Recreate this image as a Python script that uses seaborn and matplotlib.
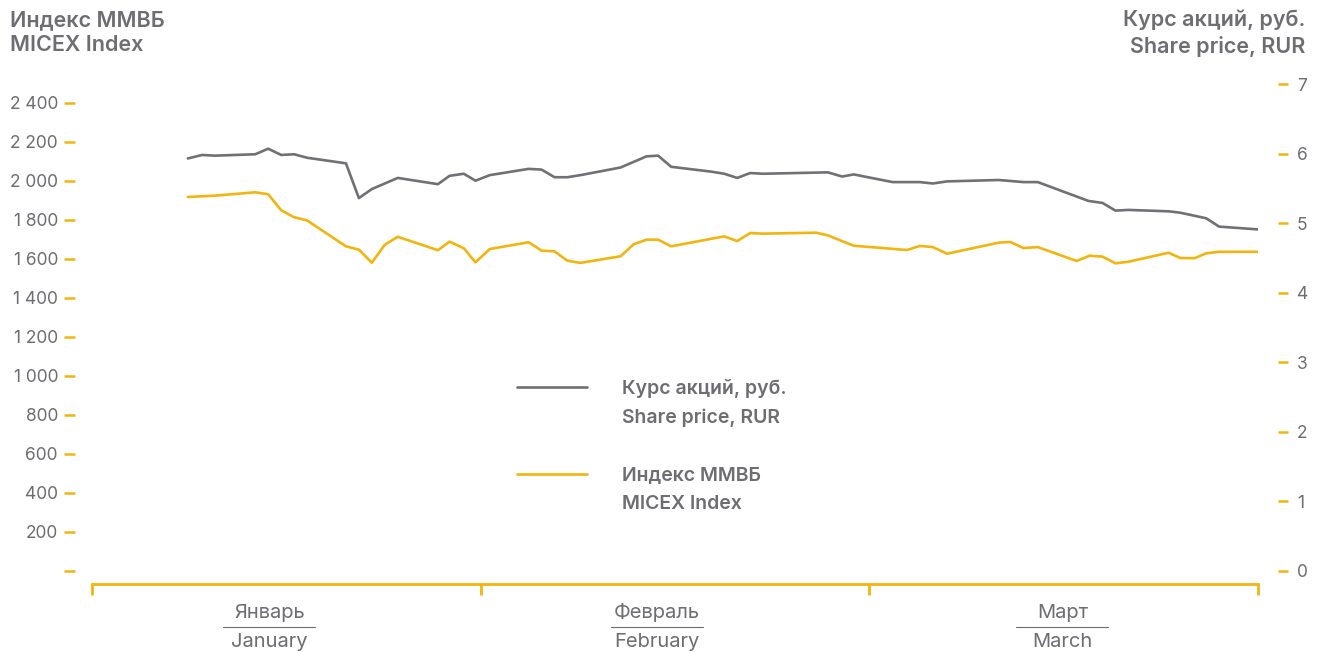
import matplotlib.pyplot as plt
import matplotlib.transforms as mtransforms
from matplotlib.lines import Line2D
import seaborn as sns

# trading days, x in "days" (each month = 30 units on the axis)
price_days = [7.4, 8.5, 9.5, 12.6, 13.6, 14.6, 15.6, 16.6, 19.6, 20.6, 21.6, 23.6,
              26.7, 27.6, 28.7, 29.6, 30.7, 33.7, 34.7, 35.7, 36.7, 37.7, 40.8, 41.8,
              42.8, 43.7, 44.7, 47.8, 48.8, 49.8, 50.8, 51.8, 56.8, 57.9, 58.8, 61.8,
              62.9, 63.9, 64.9, 66.0, 70.0, 71.9, 73.0, 76.9, 78.0, 79.0, 80.0, 83.1,
              84.0, 86.0, 87.0, 90.0]
share_price = [5.93, 5.98, 5.97, 5.99, 6.07, 5.98, 5.99, 5.94, 5.86, 5.36, 5.49, 5.65,
               5.56, 5.68, 5.71, 5.61, 5.69, 5.78, 5.77, 5.66, 5.66, 5.69, 5.80, 5.88,
               5.96, 5.97, 5.81, 5.74, 5.71, 5.65, 5.72, 5.71, 5.73, 5.67, 5.70, 5.59,
               5.59, 5.59, 5.57, 5.60, 5.62, 5.59, 5.59, 5.32, 5.29, 5.18, 5.19, 5.17,
               5.15, 5.07, 4.95, 4.91]

index_days = [7.4, 9.5, 12.6, 13.6, 14.6, 15.6, 16.6, 19.6, 20.6, 21.6, 22.6, 23.6,
              26.7, 27.6, 28.7, 29.6, 30.7, 33.7, 34.7, 35.7, 36.7, 37.7, 40.8, 41.8,
              42.8, 43.7, 44.7, 48.8, 49.8, 50.8, 51.8, 55.9, 56.8, 58.8, 62.9, 63.9,
              64.9, 66.0, 70.0, 70.9, 71.9, 73.0, 76.0, 77.0, 78.0, 79.0, 80.0, 83.1,
              84.0, 85.1, 86.0, 87.0, 90.0]
micex = [1918, 1925, 1942, 1932, 1850, 1814, 1798, 1665, 1648, 1581, 1673, 1714,
         1645, 1689, 1655, 1583, 1651, 1686, 1643, 1639, 1591, 1580, 1614, 1675,
         1699, 1699, 1665, 1716, 1692, 1733, 1730, 1735, 1721, 1668, 1646, 1667,
         1661, 1627, 1684, 1687, 1656, 1661, 1590, 1617, 1612, 1578, 1586, 1632,
         1605, 1604, 1629, 1637, 1637]

months_ru = ["Январь", "Февраль", "Март"]
months_en = ["January", "February", "March"]
month_label_pos = [13.7, 43.6, 74.9]
month_ticks = [0, 30, 60, 90]

index_ticks = list(range(0, 2401, 200))
price_ticks = list(range(0, 8))

GREY = "#707075"
YELLOW = "#f2b50f"
TEXT = "#6d6d72"
PX = 0.72  # points per pixel at dpi 100

sns.set_style("white")
plt.rcParams["font.family"] = ["Inter", "DejaVu Sans"]

fig = plt.figure(figsize=(13.19, 6.52), dpi=100)
ax = fig.add_axes([92 / 1319, 68 / 652, (1258 - 92) / 1319, 500 / 652])
ax2 = ax.twinx()

sns.lineplot(x=index_days, y=micex, ax=ax, color=YELLOW, linewidth=1.9, legend=False)
sns.lineplot(x=price_days, y=share_price, ax=ax2, color=GREY, linewidth=1.9, legend=False)

ax.set_xlim(0, 90)
ax.set_ylim(-66.7, 2497.4)
ax2.set_ylim(-0.187, 7.0)

for s in ["top", "right", "left"]:
    ax.spines[s].set_visible(False)
ax.spines["bottom"].set_color(YELLOW)
ax.spines["bottom"].set_linewidth(2.0)
for s in ["top", "left", "bottom"]:
    ax2.spines[s].set_visible(False)
ax2.spines["right"].set_color("none")
ax2.spines["right"].set_position(("outward", 20 * PX))

ax.spines["left"].set_position(("outward", 17 * PX))
ax.yaxis.set_ticks_position("left")
ax.set_yticks(index_ticks)
ax.set_yticklabels([""] + [f"{v:,}".replace(",", " ") for v in index_ticks[1:]])
ax.tick_params(axis="y", which="both", left=True, direction="out", length=11 * PX,
               width=1.8, color=YELLOW, labelcolor=TEXT, labelsize=12.5, pad=6 * PX)

ax2.set_yticks(price_ticks)
ax2.tick_params(axis="y", right=True, direction="out", length=10 * PX, width=1.8,
                color=YELLOW, labelcolor=TEXT, labelsize=12.5, pad=9 * PX)

ax.set_xticks(month_ticks)
ax.set_xticklabels([])
ax.tick_params(axis="x", bottom=True, direction="out", length=8, width=2.0,
               color=YELLOW, pad=0)
ax.set_xlabel("")
ax.set_ylabel("")
ax2.set_ylabel("")

# month labels under the axis, Russian over English with a thin rule between
trans = mtransforms.blended_transform_factory(ax.transData, fig.transFigure)
half = 46 / ((1258 - 92) / 90)
for pos, ru, en in zip(month_label_pos, months_ru, months_en):
    ax.text(pos, 1 - 613 / 652, ru, transform=trans, ha="center", va="center",
            fontsize=14.5, color=TEXT)
    ax.text(pos, 1 - 642 / 652, en, transform=trans, ha="center", va="center",
            fontsize=14.5, color=TEXT)
    ax.add_line(Line2D([pos - half, pos + half], [1 - 627 / 652] * 2, transform=trans,
                       color=TEXT, linewidth=0.8, clip_on=False))

fig.text(10 / 1319, 1 - 10 / 652, "Индекс ММВБ\nMICEX Index", ha="left", va="top",
         fontsize=15.5, fontweight="semibold", color=TEXT, linespacing=1.3)
fig.text(1305 / 1319, 1 - 10 / 652, "Курс акций, руб.\nShare price, RUR", ha="right",
         va="top", fontsize=15.5, fontweight="semibold", color=TEXT, linespacing=1.3)

blank = Line2D([], [], color="none")
handles = [Line2D([], [], color=GREY, linewidth=1.9), blank, blank,
           Line2D([], [], color=YELLOW, linewidth=1.9), blank]
labels = ["Курс акций, руб.", "Share price, RUR", " ", "Индекс ММВБ", "MICEX Index"]
leg = ax2.legend(handles, labels, loc="upper left", bbox_to_anchor=(509 / 1319, 1 - 371 / 652),
                 bbox_transform=fig.transFigure, frameon=False, handlelength=3.6,
                 handletextpad=1.8, labelspacing=0.55, borderaxespad=0,
                 prop={"size": 14, "weight": "semibold"})
for t in leg.get_texts():
    t.set_color(TEXT)

plt.savefig("out.png", dpi=100)
plt.close()
